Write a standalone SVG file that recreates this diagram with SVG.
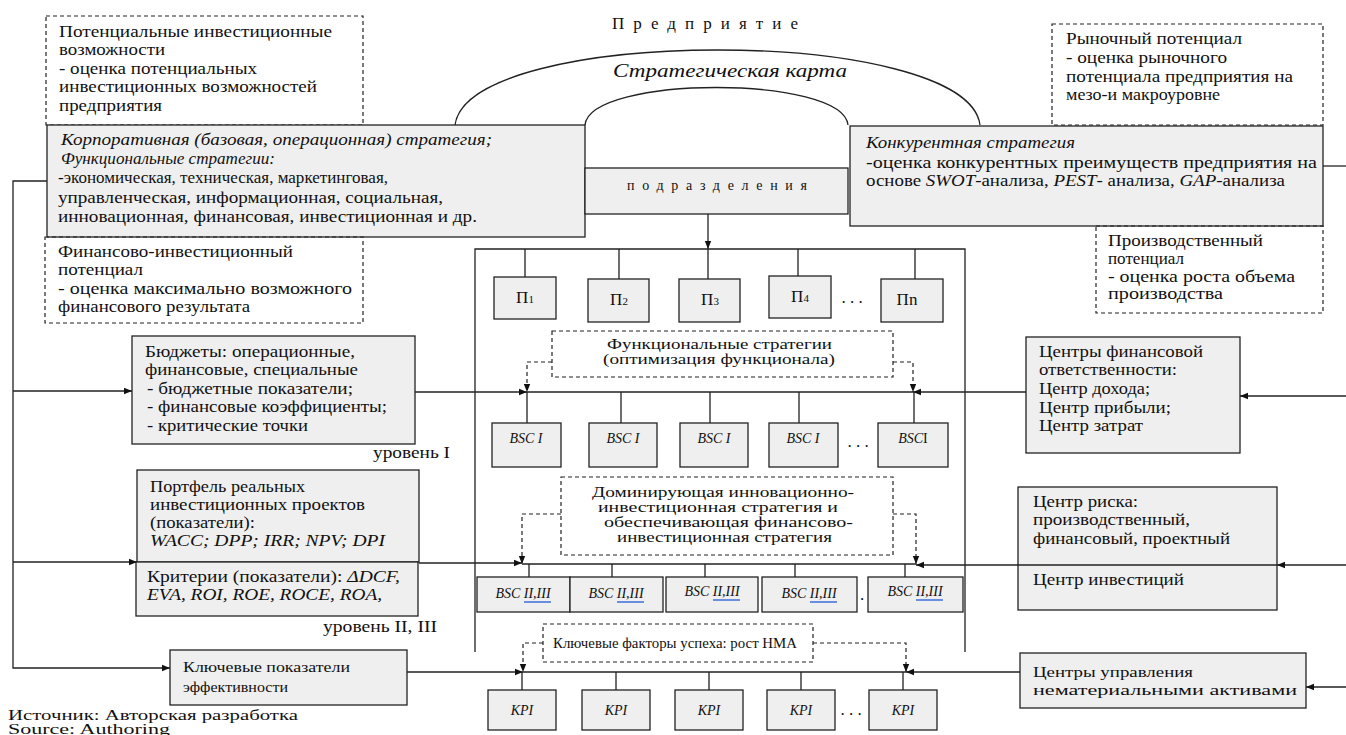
<svg xmlns="http://www.w3.org/2000/svg" width="1346" height="735" viewBox="0 0 1346 735">
<style>
text{font-family:"Liberation Serif","Times New Roman",serif;font-size:16px;fill:#111}
.s15{font-size:15.5px}
.s14{font-size:14px}
.i{font-style:italic}
.box{fill:#efefef;stroke:#222;stroke-width:1.3}
.dash{fill:none;stroke:#222;stroke-width:1.2;stroke-dasharray:4 3}
.ln{fill:none;stroke:#222;stroke-width:1.3}
.c{text-anchor:middle}
.ul{stroke:#6a8ee0;stroke-width:2}
</style>
<defs>
<marker id="ah" viewBox="0 0 10 10" refX="10" refY="5" markerWidth="9" markerHeight="8" markerUnits="userSpaceOnUse" orient="auto"><path d="M0,1 L10,5 L0,9 z" fill="#111"/></marker>
</defs>

<g id="title">
<text x="612" y="29" textLength="186" lengthAdjust="spacing" style="font-size:17px">Предприятие</text>
<text x="613" y="77" class="i" textLength="234" lengthAdjust="spacingAndGlyphs" style="font-size:18px">Стратегическая карта</text>
</g>

<g id="arcs">
<path class="ln" d="M455,125 C468,25 967,25 980,125"/>
<path class="ln" d="M585,125 C590,75 843,75 848,125"/>
</g>

<g id="connectors">
<path class="ln" d="M47,181 H13 V668 H170" marker-end="url(#ah)"/>
<path class="ln" d="M13,391 H132" marker-end="url(#ah)"/>
<path class="ln" d="M13,562 H137" marker-end="url(#ah)"/>
<path class="ln" d="M1323,166 H1346"/>
<path class="ln" d="M708,214 V249" marker-end="url(#ah)"/>
<path class="ln" d="M475,652 V249 H965 V652"/>
<path class="ln" d="M708,249 V279 M525,249 V277 M619,249 V279 M798,249 V276 M915,249 V279"/>
<path class="ln" d="M415,392 H527" marker-end="url(#ah)"/>
<path class="ln" d="M527,392 H913"/>
<path class="ln" d="M1026,392 H913" marker-end="url(#ah)"/>
<path class="ln" d="M1346,396 H1240" marker-end="url(#ah)"/>
<path class="dash" d="M552,362 H527 V392" marker-end="url(#ah)"/>
<path class="dash" d="M893,362 H913 V392" marker-end="url(#ah)"/>
<path class="ln" d="M527,392 V423 M621,392 V423 M710,392 V423 M799,392 V423 M914,392 V423"/>
<path class="ln" d="M419,563 H522" marker-end="url(#ah)"/>
<path class="ln" d="M522,564 H916"/>
<path class="ln" d="M1018,565 H916" marker-end="url(#ah)"/>
<path class="ln" d="M1346,565 H1277" marker-end="url(#ah)"/>
<path class="dash" d="M561,514 H522 V564" marker-end="url(#ah)"/>
<path class="dash" d="M893,514 H916 V564" marker-end="url(#ah)"/>
<path class="ln" d="M529,564 V577 M612,564 V577 M705,564 V577 M795,564 V577 M905,564 V577"/>
<path class="ln" d="M407,672 H523" marker-end="url(#ah)"/>
<path class="ln" d="M523,672 H906"/>
<path class="ln" d="M1020,672 H906" marker-end="url(#ah)"/>
<path class="ln" d="M1346,687 H1306" marker-end="url(#ah)"/>
<path class="dash" d="M543,643 H523 V672" marker-end="url(#ah)"/>
<path class="dash" d="M813,643 H906 V672" marker-end="url(#ah)"/>
<path class="ln" d="M522,672 V690 M616,672 V690 M709,672 V690 M801,672 V690 M903,672 V690"/>
</g>

<g id="n-potential-invest">
<rect class="dash" x="46" y="16" width="317" height="109"/>
<text x="59" y="37" textLength="273" lengthAdjust="spacingAndGlyphs">Потенциальные инвестиционные</text>
<text x="59" y="55" textLength="106" lengthAdjust="spacingAndGlyphs">возможности</text>
<text x="59" y="74" textLength="198" lengthAdjust="spacingAndGlyphs">- оценка потенциальных</text>
<text x="59" y="92" textLength="258" lengthAdjust="spacingAndGlyphs">инвестиционных возможностей</text>
<text x="59" y="111" textLength="103" lengthAdjust="spacingAndGlyphs">предприятия</text>
</g>

<g id="n-market">
<rect class="dash" x="1052" y="24" width="271" height="101"/>
<text x="1066" y="44" textLength="176" lengthAdjust="spacingAndGlyphs">Рыночный потенциал</text>
<text x="1066" y="63" textLength="161" lengthAdjust="spacingAndGlyphs">- оценка рыночного</text>
<text x="1066" y="82" textLength="227" lengthAdjust="spacingAndGlyphs">потенциала предприятия на</text>
<text x="1066" y="100" textLength="154" lengthAdjust="spacingAndGlyphs">мезо-и макроуровне</text>
</g>

<g id="n-corporate">
<rect class="box" x="47" y="125" width="538" height="112"/>
<text x="61" y="145" class="i" textLength="431" lengthAdjust="spacingAndGlyphs">Корпоративная  (базовая, операционная)  стратегия;</text>
<text x="61" y="164" class="i" textLength="214" lengthAdjust="spacingAndGlyphs">Функциональные  стратегии:</text>
<text x="58" y="183" textLength="330" lengthAdjust="spacingAndGlyphs">-экономическая, техническая, маркетинговая,</text>
<text x="58" y="203" textLength="385" lengthAdjust="spacingAndGlyphs">управленческая, информационная, социальная,</text>
<text x="58" y="222" textLength="419" lengthAdjust="spacingAndGlyphs">инновационная, финансовая, инвестиционная и др.</text>
</g>

<g id="n-divisions">
<rect class="box" x="585" y="168" width="263" height="46"/>
<text x="627" y="190" class="s14" textLength="180" lengthAdjust="spacing">подразделения</text>
</g>

<g id="n-competitive">
<rect class="box" x="850" y="126" width="473" height="100"/>
<text x="866" y="148" class="i" textLength="209" lengthAdjust="spacingAndGlyphs">Конкурентная  стратегия</text>
<text x="866" y="168" textLength="451" lengthAdjust="spacingAndGlyphs">-оценка конкурентных преимуществ предприятия на</text>
<text x="866" y="186" textLength="419" lengthAdjust="spacingAndGlyphs">основе <tspan class="i">SWOT</tspan>-анализа, <tspan class="i">PEST</tspan>- анализа, <tspan class="i">GAP</tspan>-анализа</text>
</g>

<g id="n-production">
<rect class="dash" x="1096" y="226" width="227" height="87"/>
<text x="1108" y="246" textLength="155" lengthAdjust="spacingAndGlyphs">Производственный</text>
<text x="1108" y="264" textLength="76" lengthAdjust="spacingAndGlyphs">потенциал</text>
<text x="1108" y="282" textLength="187" lengthAdjust="spacingAndGlyphs">- оценка роста объема</text>
<text x="1108" y="299" textLength="115" lengthAdjust="spacingAndGlyphs">производства</text>
</g>

<g id="n-fin-invest">
<rect class="dash" x="45" y="237" width="318" height="86"/>
<text x="58" y="257" textLength="235" lengthAdjust="spacingAndGlyphs">Финансово-инвестиционный</text>
<text x="58" y="275" textLength="85" lengthAdjust="spacingAndGlyphs">потенциал</text>
<text x="58" y="294" textLength="294" lengthAdjust="spacingAndGlyphs">- оценка максимально возможного</text>
<text x="58" y="312" textLength="192" lengthAdjust="spacingAndGlyphs">финансового результата</text>
</g>

<g id="n-p">
<rect class="box" x="494" y="277" width="62" height="42"/>
<text x="525" y="303" class="c" style="font-size:17px">П<tspan style="font-size:11px">1</tspan></text>
<rect class="box" x="588" y="279" width="61" height="43"/>
<text x="619" y="305" class="c" style="font-size:17px">П<tspan style="font-size:11px">2</tspan></text>
<rect class="box" x="679" y="279" width="61" height="43"/>
<text x="710" y="305" class="c" style="font-size:17px">П<tspan style="font-size:11px">3</tspan></text>
<rect class="box" x="769" y="276" width="62" height="42"/>
<text x="800" y="302" class="c" style="font-size:17px">П<tspan style="font-size:11px">4</tspan></text>
<text x="852" y="303" class="c" style="font-size:17px">. . .</text>
<rect class="box" x="881" y="279" width="62" height="43"/>
<text x="907" y="305" class="c" style="font-size:17px">Пn</text>
</g>

<g id="n-budgets">
<rect class="box" x="132" y="336" width="283" height="108"/>
<text x="145" y="357" textLength="210" lengthAdjust="spacingAndGlyphs">Бюджеты:  операционные,</text>
<text x="145" y="375" textLength="213" lengthAdjust="spacingAndGlyphs">финансовые,  специальные</text>
<text x="147" y="394" textLength="206" lengthAdjust="spacingAndGlyphs">- бюджетные  показатели;</text>
<text x="147" y="412" textLength="240" lengthAdjust="spacingAndGlyphs">- финансовые  коэффициенты;</text>
<text x="147" y="431" textLength="161" lengthAdjust="spacingAndGlyphs">- критические  точки</text>
<text x="373" y="458" textLength="77" lengthAdjust="spacingAndGlyphs">уровень I</text>
</g>

<g id="n-func-strat">
<rect class="dash" x="552" y="331" width="341" height="46"/>
<text x="607" y="349" class="s14" textLength="225" lengthAdjust="spacingAndGlyphs">Функциональные  стратегии</text>
<text x="603" y="364" class="s14" textLength="232" lengthAdjust="spacingAndGlyphs">(оптимизация функционала)</text>
</g>

<g id="n-fin-centers">
<rect class="box" x="1026" y="337" width="214" height="116"/>
<text x="1039" y="357" textLength="164" lengthAdjust="spacingAndGlyphs">Центры финансовой</text>
<text x="1039" y="375" textLength="138" lengthAdjust="spacingAndGlyphs">ответственности:</text>
<text x="1039" y="394" textLength="111" lengthAdjust="spacingAndGlyphs">Центр дохода;</text>
<text x="1039" y="413" textLength="132" lengthAdjust="spacingAndGlyphs">Центр прибыли;</text>
<text x="1039" y="431" textLength="104" lengthAdjust="spacingAndGlyphs">Центр затрат</text>
</g>

<g id="n-bsc1">
<rect class="box" x="492" y="423" width="69" height="44"/>
<text x="526" y="443" class="c i s14">BSC I</text>
<rect class="box" x="589" y="423" width="68" height="44"/>
<text x="623" y="443" class="c i s14">BSC I</text>
<rect class="box" x="680" y="423" width="68" height="44"/>
<text x="714" y="443" class="c i s14">BSC I</text>
<rect class="box" x="769" y="423" width="69" height="44"/>
<text x="803" y="443" class="c i s14">BSC I</text>
<text x="858" y="447" class="c" style="font-size:17px">. . .</text>
<rect class="box" x="878" y="423" width="70" height="44"/>
<text x="913" y="443" class="c s14"><tspan class="i">BSC</tspan>I</text>
</g>

<g id="n-portfolio">
<rect class="box" x="137" y="470" width="282" height="92"/>
<text x="150" y="492" textLength="155" lengthAdjust="spacingAndGlyphs">Портфель реальных</text>
<text x="150" y="510" textLength="215" lengthAdjust="spacingAndGlyphs">инвестиционных проектов</text>
<text x="150" y="528" textLength="105" lengthAdjust="spacingAndGlyphs">(показатели):</text>
<text x="150" y="546" class="i" textLength="235" lengthAdjust="spacingAndGlyphs">WACC; DPP; IRR; NPV; DPI</text>
</g>

<g id="n-criteria">
<rect class="box" x="136" y="562" width="282" height="54"/>
<text x="147" y="582" textLength="253" lengthAdjust="spacingAndGlyphs">Критерии (показатели): <tspan class="i">ΔDCF,</tspan></text>
<text x="147" y="600" class="i" textLength="235" lengthAdjust="spacingAndGlyphs">EVA, ROI, ROE, ROCE, ROA,</text>
<text x="323" y="632" textLength="114" lengthAdjust="spacingAndGlyphs">уровень II, III</text>
</g>

<g id="n-dominating">
<rect class="dash" x="561" y="477" width="332" height="78"/>
<text x="592" y="497" class="s15" textLength="262" lengthAdjust="spacingAndGlyphs">Доминирующая инновационно-</text>
<text x="598" y="512" class="s15" textLength="240" lengthAdjust="spacingAndGlyphs">инвестиционная  стратегия  и</text>
<text x="604" y="527" class="s15" textLength="249" lengthAdjust="spacingAndGlyphs">обеспечивающая  финансово-</text>
<text x="617" y="542" class="s15" textLength="215" lengthAdjust="spacingAndGlyphs">инвестиционная стратегия</text>
</g>

<g id="n-risk">
<rect class="box" x="1018" y="487" width="259" height="123"/>
<line class="ln" x1="1018" y1="565" x2="1277" y2="565"/>
<text x="1033" y="507" textLength="105" lengthAdjust="spacingAndGlyphs">Центр риска:</text>
<text x="1033" y="525" textLength="157" lengthAdjust="spacingAndGlyphs">производственный,</text>
<text x="1033" y="544" textLength="197" lengthAdjust="spacingAndGlyphs">финансовый, проектный</text>
<text x="1033" y="585" textLength="151" lengthAdjust="spacingAndGlyphs">Центр инвестиций</text>
</g>

<g id="n-bsc23">
<rect class="box" x="477" y="577" width="93" height="35"/>
<text x="523" y="598" class="c i s14">BSC II,III</text>
<line class="ul" x1="524" y1="602" x2="551" y2="602"/>
<rect class="box" x="570" y="577" width="93" height="35"/>
<text x="616" y="598" class="c i s14">BSC II,III</text>
<line class="ul" x1="617" y1="602" x2="644" y2="602"/>
<rect class="box" x="666" y="577" width="92" height="35"/>
<text x="712" y="596" class="c i s14">BSC II,III</text>
<line class="ul" x1="713" y1="600" x2="740" y2="600"/>
<rect class="box" x="762" y="577" width="95" height="35"/>
<text x="809" y="598" class="c i s14">BSC II,III</text>
<line class="ul" x1="810" y1="602" x2="837" y2="602"/>
<text x="862" y="600" class="c" style="font-size:17px">.</text>
<rect class="box" x="868" y="577" width="95" height="35"/>
<text x="915" y="596" class="c i s14">BSC II,III</text>
<line class="ul" x1="916" y1="600" x2="943" y2="600"/>
</g>

<g id="n-ksf">
<rect class="dash" x="543" y="624" width="270" height="38"/>
<text x="553" y="648" class="s15" textLength="244" lengthAdjust="spacingAndGlyphs">Ключевые  факторы  успеха: рост НМА</text>
</g>

<g id="n-kpi-main">
<rect class="box" x="170" y="650" width="237" height="55"/>
<text x="183" y="672" class="s15" textLength="167" lengthAdjust="spacingAndGlyphs">Ключевые  показатели</text>
<text x="183" y="692" class="s15" textLength="105" lengthAdjust="spacingAndGlyphs">эффективности</text>
</g>

<g id="n-intangible">
<rect class="box" x="1020" y="653" width="286" height="55"/>
<text x="1033" y="677" class="s15" textLength="160" lengthAdjust="spacingAndGlyphs">Центры управления</text>
<text x="1033" y="695" class="s15" textLength="264" lengthAdjust="spacingAndGlyphs">нематериальными  активами</text>
</g>

<g id="n-kpi">
<rect class="box" x="488" y="690" width="68" height="40"/>
<text x="522" y="715" class="c i s14">KPI</text>
<rect class="box" x="582" y="690" width="68" height="40"/>
<text x="616" y="715" class="c i s14">KPI</text>
<rect class="box" x="675" y="690" width="68" height="40"/>
<text x="709" y="715" class="c i s14">KPI</text>
<rect class="box" x="767" y="690" width="68" height="40"/>
<text x="801" y="715" class="c i s14">KPI</text>
<text x="851" y="715" class="c" style="font-size:17px">. . .</text>
<rect class="box" x="869" y="690" width="68" height="40"/>
<text x="903" y="715" class="c i s14">KPI</text>
</g>

<g id="source">
<text x="8" y="720" class="s14" textLength="290" lengthAdjust="spacingAndGlyphs">Источник: Авторская разработка</text>
<text x="8" y="734" class="s14" textLength="162" lengthAdjust="spacingAndGlyphs">Source: Authoring</text>
</g>
</svg>
